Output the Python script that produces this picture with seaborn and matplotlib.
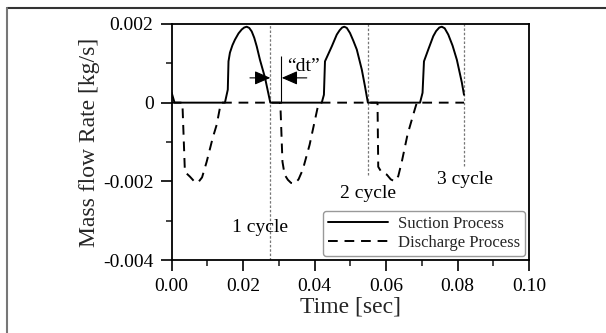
import numpy as np
import pandas as pd
import seaborn as sns
import matplotlib
matplotlib.use("Agg")
import matplotlib.pyplot as plt
from matplotlib.lines import Line2D

# ---------------- data ----------------
suction_t = [0.0, 0.0008, 0.0149, 0.0157, 0.0159, 0.0163, 0.0170, 0.0177, 0.0187, 0.0196, 0.0203,
             0.0210, 0.0217, 0.0224, 0.0231, 0.0238, 0.0247, 0.0261, 0.0276,
             0.0420, 0.0426, 0.0429, 0.0434, 0.0448, 0.0462, 0.0470, 0.0477, 0.0483, 0.0490,
             0.0499, 0.0508, 0.0518, 0.0532, 0.0541, 0.0549,
             0.0695, 0.0702, 0.0706, 0.0718, 0.0732, 0.0740, 0.0749, 0.0756, 0.0764, 0.0774,
             0.0786, 0.0798, 0.0812, 0.0818]
suction_v = [0.00025, 0.0, 0.0, 0.00033, 0.00105, 0.00127, 0.00146, 0.00160, 0.00176, 0.00186, 0.00191,
             0.00193, 0.00190, 0.00181, 0.00165, 0.00143, 0.00109, 0.00064, 0.0,
             0.0, 0.00020, 0.00105, 0.00115, 0.00143, 0.00173, 0.00184, 0.00191, 0.00193, 0.00190,
             0.00177, 0.00158, 0.00135, 0.00084, 0.00041, 0.0,
             0.0, 0.00025, 0.00105, 0.00135, 0.00169, 0.00182, 0.00191, 0.00193, 0.00189, 0.00173,
             0.00145, 0.00109, 0.00051, 0.00020]

discharge_t = [0.0, 0.0030, 0.0037, 0.0051, 0.0062, 0.0073, 0.0085, 0.0098, 0.0115, 0.0126, 0.0135,
               0.0140,
               0.0304, 0.0310, 0.0316, 0.0325, 0.0334, 0.0344, 0.0355, 0.0367, 0.0386, 0.0400, 0.0409,
               0.0414,
               0.0576, 0.0578, 0.0588, 0.0602, 0.0613, 0.0624, 0.0634, 0.0644, 0.0660, 0.0680, 0.0686,
               0.0818]
discharge_v = [0.0, 0.0, -0.00176, -0.00188, -0.00199, -0.00204, -0.00190, -0.00150, -0.00089, -0.00056,
               -0.00013, 0.0,
               0.0, -0.00150, -0.00183, -0.00196, -0.00204, -0.00206, -0.00195, -0.00170, -0.00107,
               -0.00048, -0.00010, 0.0,
               0.0, -0.00163, -0.00178, -0.00183, -0.00195, -0.00200, -0.00187, -0.00150, -0.00081,
               -0.00018, 0.0, 0.0]

cycle_ends = [0.0276, 0.0549, 0.0819]
cycle_labels = ["1 cycle", "2 cycle", "3 cycle"]
cycle_label_t = [0.0247, 0.0550, 0.0820]
cycle_label_v = [-0.00318, -0.00230, -0.00195]

x_ticks = [0.00, 0.02, 0.04, 0.06, 0.08, 0.10]
x_ticklabels = ["0.00", "0.02", "0.04", "0.06", "0.08", "0.10"]
y_ticks = [-0.004, -0.002, 0.0, 0.002]
y_ticklabels = ["-0.004", "-0.002", "0", "0.002"]

# ---------------- style ----------------
sns.set_theme(style="ticks")
plt.rcParams["font.family"] = ["Liberation Serif", "DejaVu Serif"]
plt.rcParams["axes.linewidth"] = 1.3

fig = plt.figure(figsize=(6.06, 3.33), dpi=100)
ax = fig.add_axes([0.2833, 0.2192, 0.873 - 0.2833, 0.928 - 0.2192])

suc = pd.DataFrame({"t": suction_t, "v": suction_v})
dis = pd.DataFrame({"t": discharge_t, "v": discharge_v})

sns.lineplot(data=suc, x="t", y="v", sort=False, estimator=None, color="black",
             linewidth=1.4, label="Suction Process", ax=ax)
sns.lineplot(data=dis, x="t", y="v", sort=False, estimator=None, color="black",
             linewidth=1.4, linestyle=(0, (5, 3.5)), label="Discharge Process", ax=ax)

# cycle boundary dotted lines
ymins = [0.0, 0.36, 0.40]
for xe, ym in zip(cycle_ends, ymins):
    ax.axvline(xe, ymin=ym, ymax=1, color="#777777", linestyle=(0, (2, 1.5)), linewidth=0.9, zorder=1)

for lbl, tx, ty in zip(cycle_labels, cycle_label_t, cycle_label_v):
    ax.text(tx, ty, lbl, fontsize=14, ha="center", va="center", color="black")

# "dt" annotation
ax.vlines(0.0306, 0.0, 0.00118, color="black", linewidth=0.8)
ax.annotate("", xy=(0.0276, 0.00063), xytext=(0.0219, 0.00063),
            arrowprops=dict(arrowstyle="-|>,head_length=0.8,head_width=0.35", color="black", lw=0.8,
                            shrinkA=0, shrinkB=0))
ax.annotate("", xy=(0.0308, 0.00063), xytext=(0.0378, 0.00063),
            arrowprops=dict(arrowstyle="-|>,head_length=0.8,head_width=0.35", color="black", lw=0.8,
                            shrinkA=0, shrinkB=0))
ax.text(0.0323, 0.00092, "\u201cdt\u201d", fontsize=14, ha="left", va="center", color="black")

# axes
ax.set_xlim(0, 0.10)
ax.set_ylim(-0.004, 0.002)
ax.set_xticks(x_ticks)
ax.set_xticklabels(x_ticklabels)
ax.set_yticks(y_ticks)
ax.set_yticklabels(y_ticklabels)
ax.set_xticks([0.01, 0.03, 0.05, 0.07, 0.09], minor=True)
ax.set_yticks([-0.003, -0.001, 0.001], minor=True)
ax.tick_params(which="major", direction="out", length=8, width=1.2, labelsize=14, pad=5, colors="black")
ax.tick_params(which="minor", direction="out", length=4.5, width=1.2)
for s in ax.spines.values():
    s.set_visible(True)
    s.set_color("black")
ax.set_xlabel("Time [sec]", fontsize=17, labelpad=1)
ax.set_ylabel("Mass flow Rate [kg/s]", fontsize=17, labelpad=2)

leg = ax.legend(loc="lower right", fontsize=12, frameon=True, fancybox=True,
                handlelength=3.6, handletextpad=0.6, labelspacing=0.2, borderpad=0.3,
                borderaxespad=0.25)
leg.get_frame().set_edgecolor("#999999")
leg.get_frame().set_linewidth(1.0)
leg.get_frame().set_alpha(1.0)

# outer frame lines (top and left)
fig.add_artist(Line2D([7 / 606, 1], [1 - 8 / 333, 1 - 8 / 333], transform=fig.transFigure,
                      color="#333333", linewidth=1.5))
fig.add_artist(Line2D([7 / 606, 7 / 606], [0, 1 - 8 / 333], transform=fig.transFigure,
                      color="#777777", linewidth=1.5))

fig.savefig("out.png", dpi=100)
